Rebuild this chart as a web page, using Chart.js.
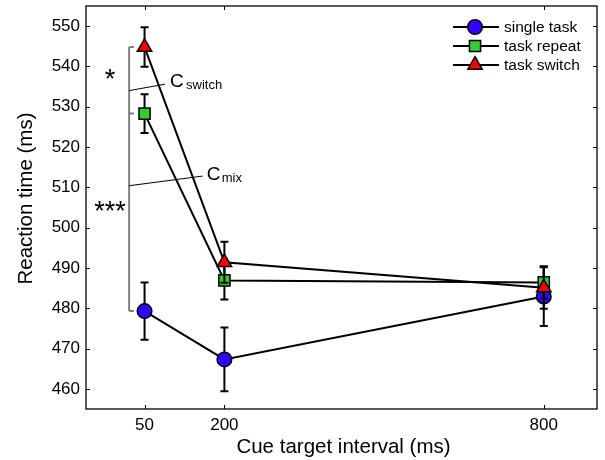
<!DOCTYPE html>
<html>
<head>
<meta charset="utf-8">
<script src="https://cdn.jsdelivr.net/npm/chart.js@4.4.1/dist/chart.umd.min.js"></script>
<style>
  html, body { margin: 0; padding: 0; background: #fff; }
  #wrap { width: 605px; height: 460px; }
</style>
</head>
<body>
<div id="wrap"><canvas id="c" width="605" height="460"></canvas></div>
<script>
// ---- data ----
const intervals = [50, 200, 800];
const xTicks = [50, 200, 800];
const yTicks = [460, 470, 480, 490, 500, 510, 520, 530, 540, 550];
const seriesLabels = ['single task', 'task repeat', 'task switch'];
const singleTask = [479.3, 467.3, 482.9];
const singleErr  = [7.1, 7.9, 7.3];
const taskRepeat = [528.3, 486.9, 486.4];
const repeatErr  = [4.8, 4.7, 4.0];
const taskSwitch = [544.8, 491.4, 485.1];
const switchErr  = [4.9, 5.1, 5.2];

const FONT = "'Liberation Sans', Arial, Helvetica, sans-serif";

function pts(vals) { return intervals.map((x, i) => ({ x: x, y: vals[i] })); }

const errs = [singleErr, repeatErr, switchErr];

const errorBarPlugin = {
  id: 'errbars',
  beforeDatasetDraw(chart, args) {
    const i = args.index;
    const ctx = chart.ctx, xs = chart.scales.x, ys = chart.scales.y;
    const ds = chart.data.datasets[i];
    ctx.save();
    ctx.strokeStyle = '#000';
    ctx.lineWidth = 2;
    ds.data.forEach((p, k) => {
      const e = errs[i][k];
      const px = xs.getPixelForValue(p.x);
      const y1 = ys.getPixelForValue(p.y + e);
      const y2 = ys.getPixelForValue(p.y - e);
      ctx.beginPath();
      ctx.moveTo(px, y1); ctx.lineTo(px, y2);
      ctx.moveTo(px - 4, y1); ctx.lineTo(px + 4, y1);
      ctx.moveTo(px - 4, y2); ctx.lineTo(px + 4, y2);
      ctx.stroke();
    });
    ctx.restore();
  }
};

function drawMarker(ctx, style, r, x, y) {
  if (style === 'circle') {
    ctx.arc(x, y, r, 0, Math.PI * 2);
  } else if (style === 'rect') {
    const s = Math.SQRT1_2 * r;
    ctx.rect(x - s, y - s, 2 * s, 2 * s);
  } else if (style === 'triangle') {
    let rad = 0;
    ctx.moveTo(x + Math.sin(rad) * r, y - Math.cos(rad) * r);
    rad += 2 * Math.PI / 3;
    ctx.lineTo(x + Math.sin(rad) * r, y - Math.cos(rad) * r);
    rad += 2 * Math.PI / 3;
    ctx.lineTo(x + Math.sin(rad) * r, y - Math.cos(rad) * r);
    ctx.closePath();
  }
}

const framePlugin = {
  id: 'frame',
  afterDraw(chart) {
    const ctx = chart.ctx, a = chart.chartArea, xs = chart.scales.x, ys = chart.scales.y;
    ctx.save();
    ctx.strokeStyle = '#000';
    ctx.lineWidth = 1.3;
    ctx.strokeRect(a.left, a.top, a.right - a.left, a.bottom - a.top);
    ctx.lineWidth = 1;
    ctx.beginPath();
    xTicks.forEach(v => {
      const px = Math.round(xs.getPixelForValue(v)) + 0.5;
      ctx.moveTo(px, a.bottom); ctx.lineTo(px, a.bottom - 4);
      ctx.moveTo(px, a.top); ctx.lineTo(px, a.top + 4);
    });
    yTicks.forEach(v => {
      const py = Math.round(ys.getPixelForValue(v)) + 0.5;
      ctx.moveTo(a.left, py); ctx.lineTo(a.left + 4, py);
      ctx.moveTo(a.right, py); ctx.lineTo(a.right - 4, py);
    });
    ctx.stroke();

    // axis titles
    ctx.fillStyle = '#000';
    ctx.font = '20.5px ' + FONT;
    ctx.textAlign = 'center';
    ctx.textBaseline = 'middle';
    ctx.fillText('Cue target interval (ms)', (a.left + a.right) / 2 + 2, a.bottom + 38);
    ctx.save();
    ctx.translate(a.left - 60, (a.top + a.bottom) / 2 - 9);
    ctx.rotate(-Math.PI / 2);
    ctx.fillText('Reaction time (ms)', 0, 0);
    ctx.restore();

    // legend
    const ds = chart.data.datasets;
    ctx.font = '15.5px ' + FONT;
    ctx.textAlign = 'left';
    ctx.textBaseline = 'middle';
    for (let i = 0; i < ds.length; i++) {
      const cy = a.top + 21 + i * 19;
      const lx0 = a.right - 144, lx1 = a.right - 98, mx = a.right - 122;
      ctx.strokeStyle = '#000';
      ctx.lineWidth = 2;
      ctx.beginPath(); ctx.moveTo(lx0, cy); ctx.lineTo(lx1, cy); ctx.stroke();
      ctx.fillStyle = ds[i].pointBackgroundColor;
      ctx.lineWidth = ds[i].pointBorderWidth;
      ctx.beginPath();
      drawMarker(ctx, ds[i].pointStyle, ds[i].pointRadius, mx, cy);
      ctx.fill(); ctx.stroke();
      ctx.fillStyle = '#000';
      ctx.fillText(ds[i].label, a.right - 93, cy + 0.5);
    }
    ctx.restore();
  }
};

// annotation anchors (data units)
const bracketX = 21, bracketTickX = 30;
const bracketLevels = [taskSwitch[0], taskRepeat[0], singleTask[0]];

const annotationPlugin = {
  id: 'annot',
  afterDraw(chart) {
    const ctx = chart.ctx, xs = chart.scales.x, ys = chart.scales.y;
    const X = v => xs.getPixelForValue(v), Y = v => ys.getPixelForValue(v);
    ctx.save();
    // gray bracket
    ctx.strokeStyle = '#808080';
    ctx.lineWidth = 2;
    ctx.beginPath();
    ctx.moveTo(X(bracketX), Y(bracketLevels[0]));
    ctx.lineTo(X(bracketX), Y(bracketLevels[2]));
    bracketLevels.forEach(v => {
      ctx.moveTo(X(bracketX), Y(v)); ctx.lineTo(X(bracketTickX), Y(v));
    });
    ctx.stroke();
    // leader lines
    ctx.strokeStyle = '#000';
    ctx.lineWidth = 1;
    ctx.beginPath();
    ctx.moveTo(X(bracketX), Y(534.0)); ctx.lineTo(X(88.4), Y(535.6));
    ctx.moveTo(X(bracketX), Y(510.4)); ctx.lineTo(X(159.2), Y(512.8));
    ctx.stroke();
    // labels
    ctx.fillStyle = '#000';
    ctx.textAlign = 'left';
    ctx.textBaseline = 'alphabetic';
    ctx.font = '19px ' + FONT;
    ctx.fillText('C', X(97.8), Y(534.8));
    ctx.fillText('C', X(166.8), Y(511.8));
    ctx.font = '13px ' + FONT;
    ctx.fillText('switch', X(127.9), Y(534.3));
    ctx.fillText('mix', X(194.9), Y(511.4));
    // significance stars
    ctx.font = '27px ' + FONT;
    ctx.textAlign = 'center';
    ctx.fillText('*', X(-15), Y(534.7));
    ctx.fillText('***', X(-15), Y(502.0));
    ctx.restore();
  }
};

function mkDataset(label, vals, color, style, r, order) {
  return {
    label: label,
    data: pts(vals),
    borderColor: '#000',
    borderWidth: 2,
    pointStyle: style,
    pointRadius: r,
    pointHoverRadius: r,
    pointBackgroundColor: color,
    pointBorderColor: '#000',
    pointBorderWidth: 1.5,
    fill: false,
    tension: 0,
    clip: false,
    order: order
  };
}

new Chart(document.getElementById('c'), {
  type: 'line',
  data: {
    datasets: [
      mkDataset(seriesLabels[0], singleTask, '#3300ff', 'circle', 7.3, 3),
      mkDataset(seriesLabels[1], taskRepeat, '#33cc33', 'rect', 7.9, 2),
      mkDataset(seriesLabels[2], taskSwitch, '#ff0000', 'triangle', 8.3, 1)
    ]
  },
  options: {
    responsive: false,
    animation: false,
    devicePixelRatio: 1,
    layout: { autoPadding: false, padding: { top: 6, right: 8, left: 0, bottom: 0 } },
    plugins: { legend: { display: false }, tooltip: { enabled: false } },
    scales: {
      x: {
        type: 'linear', min: -60, max: 900,
        afterBuildTicks: s => { s.ticks = xTicks.map(v => ({ value: v })); },
        afterFit: s => { s.height = 51; s.paddingLeft = 0; s.paddingRight = 0; },
        grid: { display: false, drawTicks: false },
        border: { display: false },
        ticks: { color: '#000', font: { size: 17, family: FONT }, padding: 6, maxRotation: 0 }
      },
      y: {
        type: 'linear', min: 455, max: 555,
        afterBuildTicks: s => { s.ticks = yTicks.map(v => ({ value: v })); },
        afterFit: s => { s.width = 86; s.paddingTop = 0; s.paddingBottom = 0; },
        grid: { display: false, drawTicks: false },
        border: { display: false },
        ticks: { color: '#000', font: { size: 17, family: FONT }, padding: 6 }
      }
    }
  },
  plugins: [errorBarPlugin, framePlugin, annotationPlugin]
});
</script>
</body>
</html>
